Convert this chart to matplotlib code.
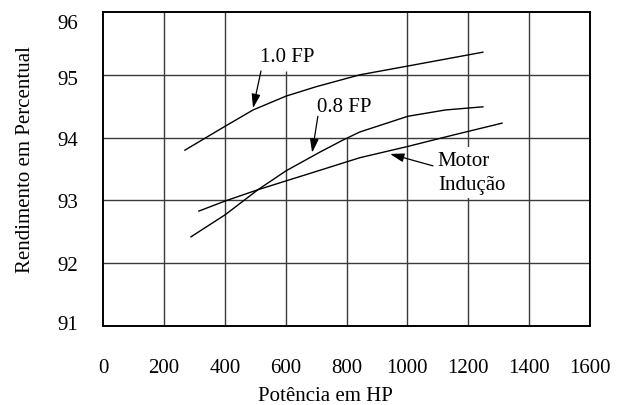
import matplotlib

matplotlib.use("Agg")
import matplotlib.pyplot as plt
from matplotlib.transforms import ScaledTranslation

plt.rcParams["font.family"] = ["Liberation Serif", "DejaVu Serif"]

# efficiency curves (HP, percent)
pf10_hp = [269, 401, 493, 601, 700, 844, 1002, 1125, 1248]
pf10_eff = [93.80, 94.18, 94.44, 94.66, 94.81, 95.00, 95.14, 95.25, 95.36]

pf08_hp = [289, 401, 509, 601, 713, 788, 844, 1002, 1125, 1248]
pf08_eff = [92.42, 92.77, 93.17, 93.47, 93.77, 93.96, 94.09, 94.34, 94.44, 94.49]

motor_hp = [315, 401, 509, 601, 713, 844, 1002, 1150, 1311]
motor_eff = [92.83, 92.99, 93.17, 93.31, 93.48, 93.68, 93.86, 94.04, 94.23]

x_ticks = [0, 200, 400, 600, 800, 1000, 1200, 1400, 1600]
y_ticks = [91, 92, 93, 94, 95, 96]

FS = 15

fig = plt.figure(figsize=(6.28, 4.06), dpi=100)
ax = fig.add_axes([103 / 628, 79 / 406, 487 / 628, 314 / 406])
ax.set_xlim(0, 1600)
ax.set_ylim(91, 96)

# grid, drawn by hand since some lines stop short in the original
grid_kw = dict(color="#3a3a3a", linewidth=1.0, zorder=1)
for y in y_ticks[1:-1]:
    ax.axhline(y, **grid_kw)
ax.vlines([200, 400, 1000, 1200, 1400], 91, 96, **grid_kw)
ax.vlines(600, 91, 95.06, **grid_kw)
ax.vlines(800, 91, 94.0, **grid_kw)

line_kw = dict(color="black", linewidth=1.0, zorder=3)
ax.plot(pf10_hp, pf10_eff, **line_kw)
ax.plot(pf08_hp, pf08_eff, **line_kw)
ax.plot(motor_hp, motor_eff, **line_kw)

arrow_kw = dict(arrowstyle="-|>,head_length=0.7,head_width=0.22", color="black",
                lw=0.9, shrinkA=0, shrinkB=0, mutation_scale=12)
ax.annotate("", xy=(493, 94.47), xytext=(519, 95.06), arrowprops=arrow_kw, zorder=4)
ax.annotate("", xy=(687, 93.76), xytext=(706, 94.34), arrowprops=arrow_kw, zorder=4)
ax.annotate("", xy=(943, 93.74), xytext=(1084, 93.55), arrowprops=arrow_kw, zorder=4)

ax.text(516, 95.22, "1.0 FP", fontsize=FS, ha="left", va="baseline", zorder=5)
ax.text(703, 94.42, "0.8 FP", fontsize=FS, ha="left", va="baseline", zorder=5)
ax.text(1100, 93.78, "Motor\nIndução", fontsize=FS, ha="left", va="top",
        linespacing=1.3, zorder=5,
        bbox=dict(facecolor="white", edgecolor="none", pad=3))

for s in ax.spines.values():
    s.set_linewidth(1.4)
    s.set_color("black")
    s.set_zorder(6)

ax.set_xticks(x_ticks)
ax.set_yticks(y_ticks)
ax.tick_params(axis="x", length=0, pad=23, labelsize=FS)
ax.tick_params(axis="y", length=0, pad=18, labelsize=FS)

# the y labels in the original sit a little off their grid lines at the ends
nudge = {96: -9, 95: -2, 91: 4}
for val, lab in zip(y_ticks, ax.get_yticklabels()):
    dy = nudge.get(val, 0)
    if dy:
        lab.set_transform(lab.get_transform() + ScaledTranslation(0, dy / 100, fig.dpi_scale_trans))

ax.set_xlabel("Potência em HP", fontsize=FS)
ax.xaxis.set_label_coords(0.456, -0.19)
ax.set_ylabel("Rendimento em Percentual", fontsize=FS)
ax.yaxis.set_label_coords(-0.140, 0.532)

fig.savefig("out.png", dpi=100)
